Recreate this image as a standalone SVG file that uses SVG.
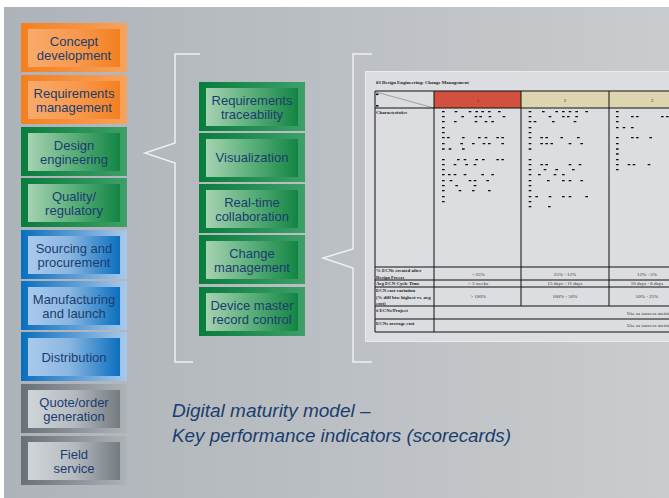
<svg xmlns="http://www.w3.org/2000/svg" width="669" height="498" viewBox="0 0 669 498">
<defs>
<linearGradient id="bg" x1="0" y1="0" x2="1" y2="0"><stop offset="0" stop-color="#adb3b9"/><stop offset="1" stop-color="#c9ccce"/></linearGradient>
<linearGradient id="oO" x1="0" y1="0" x2="1" y2="0"><stop offset="0" stop-color="#f3801f"/><stop offset="1" stop-color="#f8a25c"/></linearGradient>
<linearGradient id="oI" x1="0" y1="0" x2="1" y2="0"><stop offset="0" stop-color="#f9aa6c"/><stop offset="0.55" stop-color="#f7984c"/><stop offset="1" stop-color="#f3801f"/></linearGradient>
<linearGradient id="gO" x1="0" y1="0" x2="1" y2="0"><stop offset="0" stop-color="#087d3c"/><stop offset="1" stop-color="#3e9f69"/></linearGradient>
<linearGradient id="gI" x1="0" y1="0" x2="1" y2="0"><stop offset="0" stop-color="#a6d2b2"/><stop offset="0.5" stop-color="#5aae7a"/><stop offset="1" stop-color="#128543"/></linearGradient>
<linearGradient id="bO" x1="0" y1="0" x2="1" y2="0"><stop offset="0" stop-color="#0a6fbe"/><stop offset="1" stop-color="#a9c8ea"/></linearGradient>
<linearGradient id="bI" x1="0" y1="0" x2="1" y2="0"><stop offset="0" stop-color="#aacaec"/><stop offset="0.45" stop-color="#8ab6e2"/><stop offset="1" stop-color="#0a6fbe"/></linearGradient>
<linearGradient id="sO" x1="0" y1="0" x2="1" y2="0"><stop offset="0" stop-color="#6a7077"/><stop offset="1" stop-color="#aeb3b8"/></linearGradient>
<linearGradient id="sI" x1="0" y1="0" x2="1" y2="0"><stop offset="0" stop-color="#d0d5d9"/><stop offset="0.5" stop-color="#b4babf"/><stop offset="1" stop-color="#737a80"/></linearGradient>
</defs>
<style>
.lbl{font-family:"Liberation Sans",Arial,sans-serif;font-size:13px;fill:#1b3d6e;text-anchor:middle}
.ttl{font-family:"Liberation Sans",Arial,sans-serif;font-size:19px;font-style:italic;fill:#1b3d6e}
.tiny{font-family:"Liberation Serif","Times New Roman",serif;font-size:4.8px;font-weight:bold;fill:#222}
.val{font-family:"Liberation Serif","Times New Roman",serif;font-size:5px;fill:#333;text-anchor:middle}
.br{fill:none;stroke:#eef0f2;stroke-width:1.5}
.tl{stroke:#111;stroke-width:1;fill:none}
.dot{fill:#111}
</style>
<rect x="0" y="0" width="669" height="498" fill="#ffffff"/>
<rect x="4" y="7" width="665" height="491" fill="url(#bg)"/>

<g id="connectors">
<path class="br" d="M200,54 H175 V143 L145,153 L175,163 V362 H193"/>
<path class="br" d="M372,54 H353 V249 L323,258 L353,268 V362 H372"/>
</g>

<g id="concept-development"><rect x="21" y="23" width="106" height="49" fill="url(#oO)"/><rect x="28" y="29" width="92" height="38" fill="url(#oI)"/><text class="lbl" x="74" y="46">Concept</text><text class="lbl" x="74" y="60">development</text></g>
<g id="requirements-management"><rect x="21" y="75" width="106" height="49" fill="url(#oO)"/><rect x="28" y="81" width="92" height="38" fill="url(#oI)"/><text class="lbl" x="74" y="98">Requirements</text><text class="lbl" x="74" y="112">management</text></g>
<g id="design-engineering"><rect x="21" y="127" width="106" height="49" fill="url(#gO)"/><rect x="28" y="133" width="92" height="38" fill="url(#gI)"/><text class="lbl" x="74" y="150">Design</text><text class="lbl" x="74" y="164">engineering</text></g>
<g id="quality-regulatory"><rect x="21" y="178" width="106" height="49" fill="url(#gO)"/><rect x="28" y="184" width="92" height="38" fill="url(#gI)"/><text class="lbl" x="74" y="201">Quality/</text><text class="lbl" x="74" y="215">regulatory</text></g>
<g id="sourcing-procurement"><rect x="21" y="230" width="106" height="49" fill="url(#bO)"/><rect x="28" y="236" width="92" height="38" fill="url(#bI)"/><text class="lbl" x="74" y="253">Sourcing and</text><text class="lbl" x="74" y="267">procurement</text></g>
<g id="manufacturing-launch"><rect x="21" y="281" width="106" height="49" fill="url(#bO)"/><rect x="28" y="287" width="92" height="38" fill="url(#bI)"/><text class="lbl" x="74" y="304">Manufacturing</text><text class="lbl" x="74" y="318">and launch</text></g>
<g id="distribution"><rect x="21" y="332" width="106" height="49" fill="url(#bO)"/><rect x="28" y="338" width="92" height="38" fill="url(#bI)"/><text class="lbl" x="74" y="362">Distribution</text></g>
<g id="quote-order"><rect x="21" y="384" width="106" height="49" fill="url(#sO)"/><rect x="28" y="390" width="92" height="38" fill="url(#sI)"/><text class="lbl" x="74" y="407">Quote/order</text><text class="lbl" x="74" y="421">generation</text></g>
<g id="field-service"><rect x="21" y="436" width="106" height="49" fill="url(#sO)"/><rect x="28" y="442" width="92" height="38" fill="url(#sI)"/><text class="lbl" x="74" y="459">Field</text><text class="lbl" x="74" y="473">service</text></g>

<g id="requirements-traceability"><rect x="199" y="82" width="106" height="49" fill="url(#gO)"/><rect x="206" y="88" width="92" height="38" fill="url(#gI)"/><text class="lbl" x="252" y="105">Requirements</text><text class="lbl" x="252" y="119">traceability</text></g>
<g id="visualization"><rect x="199" y="133" width="106" height="49" fill="url(#gO)"/><rect x="206" y="139" width="92" height="38" fill="url(#gI)"/><text class="lbl" x="252" y="162">Visualization</text></g>
<g id="real-time-collaboration"><rect x="199" y="184" width="106" height="49" fill="url(#gO)"/><rect x="206" y="190" width="92" height="38" fill="url(#gI)"/><text class="lbl" x="252" y="207">Real-time</text><text class="lbl" x="252" y="221">collaboration</text></g>
<g id="change-management"><rect x="199" y="235" width="106" height="49" fill="url(#gO)"/><rect x="206" y="241" width="92" height="38" fill="url(#gI)"/><text class="lbl" x="252" y="258">Change</text><text class="lbl" x="252" y="272">management</text></g>
<g id="device-master-record"><rect x="199" y="287" width="106" height="49" fill="url(#gO)"/><rect x="206" y="293" width="92" height="38" fill="url(#gI)"/><text class="lbl" x="252" y="310">Device master</text><text class="lbl" x="252" y="324">record control</text></g>

<g id="scorecard">
<rect x="365.5" y="71.5" width="310" height="270" fill="#dcdde0" stroke="#e9ebed" stroke-width="1"/>
<text class="tiny" x="376" y="84">03 Design Engineering: Change Management</text>
<rect x="434" y="91" width="87" height="17" fill="#d2513e"/>
<rect x="521" y="91" width="160" height="17" fill="#dcd6b0"/>
<line x1="376" y1="92" x2="434" y2="108" stroke="#777" stroke-width="0.6"/>
<rect x="376" y="93.5" width="2.5" height="1.6" class="dot"/>
<rect x="376" y="105" width="2.5" height="1.6" class="dot"/>
<text class="val" x="478" y="102" fill="#222">1</text>
<text class="val" x="565" y="102">2</text>
<text class="val" x="652" y="102">3</text>
<path class="tl" d="M375,91 H680 M375,108 H680 M375,267 H680 M375,280 H680 M375,287 H680 M375,306 H680 M375,319 H680 M375,332 H680 M375,91 V332 M434,91 V332 M521,91 V306 M609,91 V306"/>
<text class="tiny" x="376" y="113.5">Characteristics</text>
<path class="dot" transform="translate(360 60) scale(0.3333)" d="M246 153h8v4h-8zM284 153h8v4h-8zM326 153h8v4h-8zM346 153h8v4h-8zM364 153h8v4h-8zM384 153h8v4h-8zM414 153h8v4h-8zM246 168h8v4h-8zM304 168h8v4h-8zM344 168h8v4h-8zM358 168h8v4h-8zM386 168h8v4h-8zM428 168h8v4h-8zM246 183h8v4h-8zM282 183h8v4h-8zM344 183h8v4h-8zM374 183h8v4h-8zM394 183h8v4h-8zM246 201h8v4h-8zM246 216h8v4h-8zM246 231h8v4h-8zM261 231h8v4h-8zM306 231h8v4h-8zM354 231h8v4h-8zM374 231h8v4h-8zM409 231h8v4h-8zM424 231h8v4h-8zM246 249h8v4h-8zM301 249h8v4h-8zM336 249h8v4h-8zM368 249h8v4h-8zM384 249h8v4h-8zM424 249h8v4h-8zM246 265h8v4h-8zM266 265h8v4h-8zM306 265h8v4h-8zM246 297h8v4h-8zM291 297h8v4h-8zM311 297h8v4h-8zM346 297h8v4h-8zM366 297h8v4h-8zM409 297h8v4h-8zM424 297h8v4h-8zM246 312h8v4h-8zM281 312h8v4h-8zM316 312h8v4h-8zM341 312h8v4h-8zM246 327h8v4h-8zM246 342h8v4h-8zM264 342h8v4h-8zM281 342h8v4h-8zM311 342h8v4h-8zM364 342h8v4h-8zM394 342h8v4h-8zM246 360h8v4h-8zM269 360h8v4h-8zM326 360h8v4h-8zM341 360h8v4h-8zM379 360h8v4h-8zM246 375h8v4h-8zM286 375h8v4h-8zM341 375h8v4h-8zM246 390h8v4h-8zM296 390h8v4h-8zM336 390h8v4h-8zM384 390h8v4h-8zM246 408h8v4h-8zM246 423h8v4h-8z"/>
<path class="dot" transform="translate(510 60) scale(0.3333)" d="M56 153h8v4h-8zM96 153h8v4h-8zM136 153h8v4h-8zM156 153h8v4h-8zM176 153h8v4h-8zM196 153h8v4h-8zM226 153h8v4h-8zM56 168h8v4h-8zM116 168h8v4h-8zM156 168h8v4h-8zM171 168h8v4h-8zM196 168h8v4h-8zM56 183h8v4h-8zM71 183h8v4h-8zM126 183h8v4h-8zM191 183h8v4h-8zM56 201h8v4h-8zM56 216h8v4h-8zM56 231h8v4h-8zM91 231h8v4h-8zM106 231h8v4h-8zM151 231h8v4h-8zM201 231h8v4h-8zM56 249h8v4h-8zM91 249h8v4h-8zM106 249h8v4h-8zM121 249h8v4h-8zM176 249h8v4h-8zM211 249h8v4h-8zM56 265h8v4h-8zM56 297h8v4h-8zM56 312h8v4h-8zM91 312h8v4h-8zM106 312h8v4h-8zM176 312h8v4h-8zM206 312h8v4h-8zM56 327h8v4h-8zM101 327h8v4h-8zM136 327h8v4h-8zM186 327h8v4h-8zM56 342h8v4h-8zM84 342h8v4h-8zM131 342h8v4h-8zM156 342h8v4h-8zM56 360h8v4h-8zM111 360h8v4h-8zM156 360h8v4h-8zM176 360h8v4h-8zM211 360h8v4h-8zM56 375h8v4h-8zM56 390h8v4h-8zM56 408h8v4h-8zM76 408h8v4h-8zM116 408h8v4h-8zM156 408h8v4h-8zM176 408h8v4h-8zM226 408h8v4h-8zM56 423h8v4h-8zM56 438h8v4h-8zM114 438h8v4h-8zM318 153h8v4h-8zM318 168h8v4h-8zM363 168h8v4h-8zM378 168h8v4h-8zM453 168h8v4h-8zM468 168h8v4h-8zM318 183h8v4h-8zM318 201h8v4h-8zM338 201h8v4h-8zM363 201h8v4h-8zM318 231h8v4h-8zM363 231h8v4h-8zM378 231h8v4h-8zM418 231h8v4h-8zM318 249h8v4h-8zM318 265h8v4h-8zM318 280h8v4h-8zM318 297h8v4h-8zM318 312h8v4h-8zM353 312h8v4h-8zM368 312h8v4h-8zM413 312h8v4h-8zM318 327h8v4h-8z"/>
<text class="tiny" x="376" y="272">% ECNs created after</text>
<text class="tiny" x="376" y="278.5">Design Freeze</text>
<text class="tiny" x="376" y="285.3">Avg ECN Cycle Time</text>
<text class="tiny" x="376" y="292">ECN cost variation</text>
<text class="tiny" x="376" y="298.5">(% diff btw highest vs. avg</text>
<text class="tiny" x="376" y="305">cost)</text>
<text class="tiny" x="376" y="311.5"># ECNs/Project</text>
<text class="tiny" x="376" y="324.5">ECNs average cost</text>
<text class="val" x="478" y="275.5">&gt; 25%</text>
<text class="val" x="478" y="285.3">&gt; 3 weeks</text>
<text class="val" x="478" y="298">&gt; 100%</text>
<text class="val" x="565" y="275.5">25% - 12%</text>
<text class="val" x="565" y="285.3">15 days - 11 days</text>
<text class="val" x="565" y="298">100% - 50%</text>
<text class="val" x="647" y="275.5">12% - 5%</text>
<text class="val" x="647" y="285.3">10 days - 6 days</text>
<text class="val" x="647" y="298">50% - 25%</text>
<text class="val" x="627" y="314.5" style="text-anchor:start">Use as success metric</text>
<text class="val" x="627" y="327" style="text-anchor:start">Use as success metric</text>
</g>

<g id="title">
<text class="ttl" x="172" y="417">Digital maturity model –</text>
<text class="ttl" x="172" y="442" textLength="339" lengthAdjust="spacingAndGlyphs">Key performance indicators (scorecards)</text>
</g>
</svg>
